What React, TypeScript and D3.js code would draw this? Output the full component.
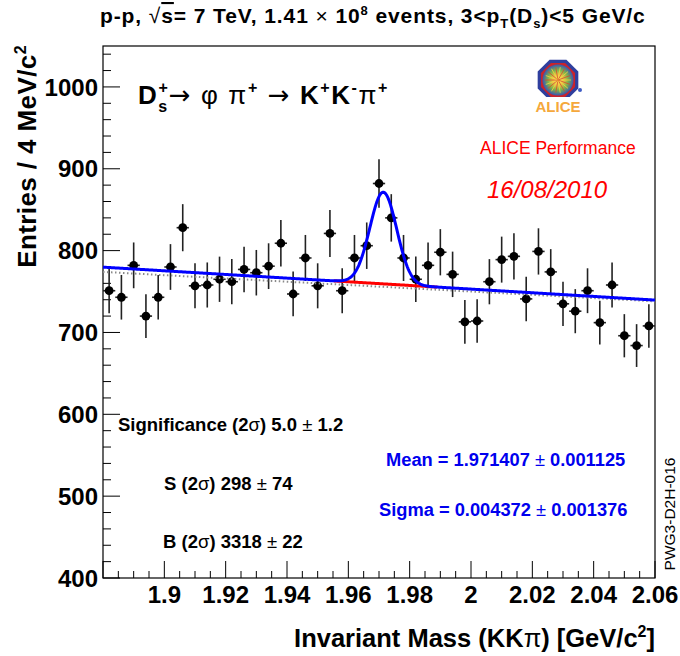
import * as d3 from "d3";

// Histogram: D_s -> phi pi -> K K pi invariant mass, 4 MeV bins from 1.88
const HIST_MIN = 1.88;
const BIN_WIDTH = 0.004;
const counts = [
  751, 743, 782, 720, 743, 780, 828, 757, 758, 765, 762, 777, 773, 781, 809,
  747, 791, 757, 821, 751, 791, 806, 882, 840, 791, 765, 782, 798, 771, 713,
  714, 762, 789, 793, 741, 799, 774, 735, 726, 751, 712, 758, 696, 684, 708,
];

// fit results
const bgAt188 = 779.8;
const bgSlope = -223.5;
const gausMean = 1.971407;
const gausSigma = 0.004372;
const gausAmp = 112;
const sidebandAt188 = 774;
const sidebandSlope = -200;
const redRange = [1.955, 1.989];

const xTicks = [1.9, 1.92, 1.94, 1.96, 1.98, 2.0, 2.02, 2.04, 2.06];
const xTickLabels = ["1.9", "1.92", "1.94", "1.96", "1.98", "2", "2.02", "2.04", "2.06"];
const yTicks = [400, 500, 600, 700, 800, 900, 1000];

const W = 680;
const H = 656;
const plot = { left: 103, right: 655, top: 46, bottom: 578 };
const FONT = "'Liberation Sans', Arial, Helvetica, sans-serif";
const ARROW_FONT = "'DejaVu Sans', sans-serif";

const x = d3.scaleLinear().domain([1.88, 2.06]).range([plot.left, plot.right]);
const y = d3.scaleLinear().domain([400, 1050]).range([plot.bottom, plot.top]);

const bg = (m: number) => bgAt188 + bgSlope * (m - 1.88);
const sideband = (m: number) => sidebandAt188 + sidebandSlope * (m - 1.88);
const total = (m: number) =>
  bg(m) + gausAmp * Math.exp(-0.5 * ((m - gausMean) / gausSigma) ** 2);

function AliceLogo() {
  const oct = (r: number) =>
    d3
      .range(8)
      .map((k) => {
        const a = ((22.5 + 45 * k) * Math.PI) / 180;
        return `${r * Math.cos(a)},${r * Math.sin(a)}`;
      })
      .join(" ");
  const rays = d3.range(18);
  return (
    <g>
      <defs>
        <radialGradient id="burst">
          <stop offset="0%" stopColor="#fff27a" />
          <stop offset="35%" stopColor="#e8c545" />
          <stop offset="65%" stopColor="#7fb24a" />
          <stop offset="100%" stopColor="#3a56b0" />
        </radialGradient>
      </defs>
      <g transform="translate(558,80)">
        <polygon points={oct(22)} fill="#2f3f9e" />
        <polygon points={oct(18.5)} fill="#c9242b" />
        <circle r={15.5} fill="url(#burst)" />
        {rays.map((k) => {
          const a = (k * 20 * Math.PI) / 180;
          return (
            <line
              key={k}
              x1={0}
              y1={0}
              x2={13 * Math.cos(a)}
              y2={13 * Math.sin(a)}
              stroke={k % 2 ? "#d8482c" : "#f5d63d"}
              strokeWidth={0.8}
            />
          );
        })}
        <rect x={-22} y={17} width={44} height={6} fill="#fff" />
      </g>
      <circle cx={580} cy={90} r={2} fill="#3d5bc4" />
      <text x={558} y={112} textAnchor="middle" fontSize={15} fontWeight="bold" fill="#f5a83c" fontFamily={FONT}>
        ALICE
      </text>
    </g>
  );
}

export default function App() {
  const centers = counts.map((c, i) => ({
    m: HIST_MIN + (i + 0.5) * BIN_WIDTH,
    c,
    e: Math.sqrt(c),
  }));

  const fine = d3.range(0, 721).map((i) => 1.88 + (i * 0.18) / 720);
  const line = d3
    .line<number>()
    .x((m) => x(m))
    .y((m) => y(total(m)));
  const bgLine = d3
    .line<number>()
    .x((m) => x(m))
    .y((m) => y(bg(m)));
  const sbLine = d3
    .line<number>()
    .x((m) => x(m))
    .y((m) => y(sideband(m)));
  const redPts = fine.filter((m) => m >= redRange[0] && m <= redRange[1]);

  const xMinor = d3.range(0, 37).map((i) => 1.88 + i * 0.005);
  const yMinor = d3.range(0, 33).map((i) => 400 + i * 20);

  return (
    <svg
      width={W}
      height={H}
      style={{ position: "absolute", left: 0, top: 0, background: "#fff" }}
      fontFamily={FONT}
    >
      {/* title */}
      <text x={100} y={23} fontSize={21} fontWeight="bold" letterSpacing={0.9}>
        p-p, <tspan fontWeight="normal">√</tspan>
        <tspan style={{ textDecoration: "overline" }}>s</tspan>= 7 TeV, 1.41
        <tspan fontWeight="normal"> × </tspan>10
        <tspan dy={-8} fontSize={13}>8</tspan>
        <tspan dy={8}> events, 3&lt;p</tspan>
        <tspan dy={5} fontSize={13}>T</tspan>
        <tspan dy={-5}>(D</tspan>
        <tspan dy={5} fontSize={13}>s</tspan>
        <tspan dy={-5}>)&lt;5 GeV/c</tspan>
      </text>

      {/* frame */}
      <rect
        x={plot.left}
        y={plot.top}
        width={plot.right - plot.left}
        height={plot.bottom - plot.top}
        fill="none"
        stroke="#000"
        strokeWidth={1.2}
      />

      {/* y axis ticks */}
      {yMinor.map((v) => (
        <line
          key={v}
          x1={plot.left}
          x2={plot.left + (v % 100 === 0 ? 17 : 8)}
          y1={y(v)}
          y2={y(v)}
          stroke="#000"
          strokeWidth={1}
        />
      ))}
      {yTicks.map((v) => (
        <text key={v} x={98} y={y(v)} dy="0.36em" textAnchor="end" fontSize={24} fontWeight="bold">
          {v}
        </text>
      ))}

      {/* x axis ticks */}
      {xMinor.map((v, i) => (
        <line
          key={i}
          x1={x(v)}
          x2={x(v)}
          y1={plot.bottom}
          y2={plot.bottom - (i % 4 === 0 ? 17 : 7)}
          stroke="#000"
          strokeWidth={1}
        />
      ))}
      {xTicks.map((v, i) => (
        <text key={v} x={x(v)} y={603} textAnchor="middle" fontSize={24} fontWeight="bold">
          {xTickLabels[i]}
        </text>
      ))}

      {/* axis titles */}
      <text x={655} y={647} textAnchor="end" fontSize={25.5} fontWeight="bold">
        Invariant Mass (KK<tspan fontWeight="normal">π</tspan>) [GeV/c
        <tspan dy={-10} fontSize={16}>2</tspan>
        <tspan dy={10}>]</tspan>
      </text>
      <text transform="translate(36,45) rotate(-90)" textAnchor="end" fontSize={26} fontWeight="bold" letterSpacing={0.4}>
        Entries / 4 MeV/c<tspan dy={-10} fontSize={16}>2</tspan>
      </text>

      {/* data points */}
      <g>
        {centers.map((d, i) => (
          <g key={i}>
            <line x1={x(d.m)} x2={x(d.m)} y1={y(d.c - d.e)} y2={y(d.c + d.e)} stroke="#222" strokeWidth={1.6} />
            <line
              x1={x(d.m - BIN_WIDTH / 2)}
              x2={x(d.m + BIN_WIDTH / 2)}
              y1={y(d.c)}
              y2={y(d.c)}
              stroke="#222"
              strokeWidth={1.6}
            />
            <circle cx={x(d.m)} cy={y(d.c)} r={4.4} fill="#000" />
          </g>
        ))}
      </g>

      {/* fits */}
      <path d={sbLine(fine) ?? ""} fill="none" stroke="#8a8a8a" strokeWidth={2} strokeDasharray="1.5,2.5" />
      <path d={bgLine(redPts) ?? ""} fill="none" stroke="#ff0000" strokeWidth={3} />
      <path d={line(fine) ?? ""} fill="none" stroke="#0000ff" strokeWidth={3} />

      {/* decay channel */}
      <text x={138} y={104} fontSize={26} fontWeight="bold" letterSpacing={1.6}>
        D<tspan dy={-11} fontSize={16}>+</tspan>
        <tspan dx={-11} dy={19} fontSize={16}>s</tspan>
        <tspan dy={-8} fontWeight="normal" fontFamily={ARROW_FONT}>→</tspan>
        <tspan fontWeight="normal"> φ π</tspan>
        <tspan dy={-11} fontSize={16}>+</tspan>
        <tspan dy={11} fontWeight="normal"> </tspan>
        <tspan fontWeight="normal" fontFamily={ARROW_FONT}>→</tspan>
        <tspan> K</tspan>
        <tspan dy={-11} fontSize={16}>+</tspan>
        <tspan dy={11}>K</tspan>
        <tspan dy={-11} fontSize={16}>-</tspan>
        <tspan dy={11} fontWeight="normal">π</tspan>
        <tspan dy={-11} fontSize={16}>+</tspan>
      </text>

      <AliceLogo />
      <text x={480} y={154} fontSize={17.5} fill="#ff0000">
        ALICE Performance
      </text>
      <text x={487} y={198} fontSize={24} fontStyle="italic" fill="#ff0000">
        16/08/2010
      </text>

      {/* yield annotations */}
      <text x={118} y={431} fontSize={18.5} fontWeight="bold">
        Significance (2<tspan fontWeight="normal">σ</tspan>) 5.0 <tspan fontWeight="normal">±</tspan> 1.2
      </text>
      <text x={164} y={490} fontSize={18.5} fontWeight="bold">
        S (2<tspan fontWeight="normal">σ</tspan>) 298 <tspan fontWeight="normal">±</tspan> 74
      </text>
      <text x={163} y={548} fontSize={18.5} fontWeight="bold">
        B (2<tspan fontWeight="normal">σ</tspan>) 3318 <tspan fontWeight="normal">±</tspan> 22
      </text>
      <text x={386} y={466} fontSize={18.3} fontWeight="bold" fill="#0000ee">
        Mean = 1.971407 <tspan fontWeight="normal">±</tspan> 0.001125
      </text>
      <text x={379} y={516} fontSize={18.3} fontWeight="bold" fill="#0000ee">
        Sigma = 0.004372 <tspan fontWeight="normal">±</tspan> 0.001376
      </text>

      <text transform="translate(675,514) rotate(-90)" textAnchor="middle" fontSize={15.5}>
        PWG3-D2H-016
      </text>
    </svg>
  );
}
